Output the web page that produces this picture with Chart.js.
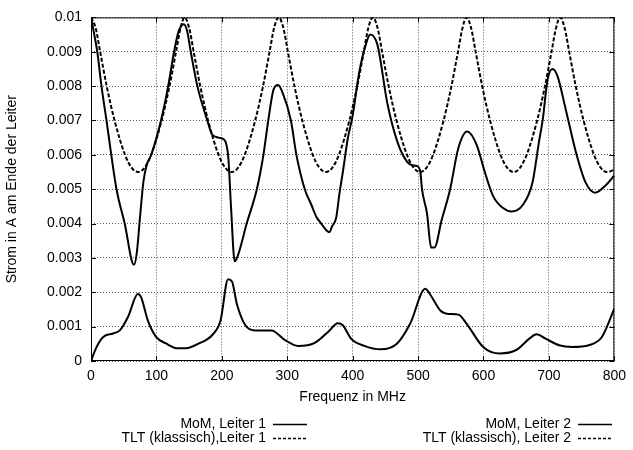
<!DOCTYPE html>
<html>
<head>
<meta charset="utf-8">
<script src="https://cdn.jsdelivr.net/npm/chart.js@4/dist/chart.umd.min.js"></script>
<style>
  body { margin: 0; background: #fff; }
  #wrap { width: 633px; height: 450px; }
</style>
</head>
<body>
<div id="wrap"><canvas id="chart" width="633" height="450"></canvas></div>
<script>
// MoM, Leiter 1 (solid)
const mom1Freq = [0, 4, 9.6, 16, 23.7, 31, 39, 51.5, 65.6, 70, 75, 80, 85, 92, 107, 118, 127, 134, 142, 147, 152.5,
  162.6, 177.8, 185, 195, 203, 207, 210, 214, 219.7, 224.7, 238, 253.5, 263.6, 271, 279, 286, 293, 305.6, 314, 326.8,
  337, 344.4, 352, 360, 364.7, 368, 374.7, 380, 385, 392.4, 400, 410, 420, 426.8, 437.9, 453, 468, 483, 491, 498.5,
  503.5, 506, 513.6, 520, 525, 536, 549, 561.6, 575, 589.4, 602, 614.7, 630, 642.4, 660, 675, 685, 690.4, 698, 705.6,
  713, 726, 741, 756, 771, 786, 800];
const mom1Val = [0.01, 0.0096, 0.009, 0.008, 0.007, 0.006, 0.005, 0.004, 0.0028, 0.00315, 0.0042, 0.0052, 0.0057, 0.006,
  0.007, 0.008, 0.009, 0.0096, 0.0098, 0.0096, 0.009,
  0.008, 0.007, 0.0066, 0.0065, 0.00645, 0.0063, 0.0059, 0.0045, 0.0029, 0.00308, 0.004, 0.005, 0.006, 0.007, 0.0079,
  0.00803, 0.0078, 0.007, 0.006, 0.005,
  0.00454, 0.0042, 0.004, 0.0038, 0.00375, 0.0039, 0.00416, 0.0049, 0.0055, 0.00646, 0.00714, 0.0084, 0.0092, 0.0095,
  0.0092, 0.0075, 0.0064, 0.0058, 0.0057, 0.00567,
  0.0055, 0.005, 0.0043, 0.0033, 0.0033, 0.0041, 0.005, 0.0062, 0.00668, 0.0063, 0.0055, 0.0048, 0.00445, 0.00435,
  0.00454, 0.0052, 0.0064, 0.007, 0.0082, 0.0085,
  0.0083, 0.0073, 0.0061, 0.0052, 0.0049, 0.0051, 0.0054];

// TLT (klassisch), Leiter 1 (dashed)
const tlt1Freq = [0, 7, 14, 24, 36, 52, 62, 72, 82, 92, 108, 120, 130, 137, 143, 150, 157, 167, 179, 195, 205, 215,
  225, 235, 251, 263, 273, 280, 287, 294, 301, 311, 323, 339, 349, 359, 369, 379, 395, 407, 417, 424, 431, 438, 445,
  455, 467, 483, 493, 503, 513, 523, 539, 551, 561, 568, 574, 581, 588, 598, 610, 626, 636, 646, 656, 666, 682, 694,
  704, 711, 717, 724, 731, 741, 753, 769, 779, 789, 800];
const tlt1Val = [0.01, 0.0097, 0.009, 0.008, 0.007, 0.006, 0.00563, 0.0055, 0.00563, 0.006, 0.007, 0.008, 0.009, 0.0097,
  0.01, 0.0097, 0.009, 0.008, 0.007, 0.006, 0.00563, 0.0055,
  0.00563, 0.006, 0.007, 0.008, 0.009, 0.0097, 0.01, 0.0097, 0.009, 0.008, 0.007, 0.006, 0.00563, 0.0055, 0.00563,
  0.006, 0.007, 0.008, 0.009, 0.0097, 0.01, 0.0097, 0.009,
  0.008, 0.007, 0.006, 0.00563, 0.0055, 0.00563, 0.006, 0.007, 0.008, 0.009, 0.0097, 0.01, 0.0097, 0.009, 0.008, 0.007,
  0.006, 0.00563, 0.0055, 0.00563, 0.006, 0.007, 0.008,
  0.009, 0.0097, 0.01, 0.0097, 0.009, 0.008, 0.007, 0.006, 0.00563, 0.0055, 0.00557];

// MoM, Leiter 2 (solid)
const mom2Freq = [0, 8.6, 18.7, 33.8, 44, 56.5, 71.7, 76.7, 86.8, 99.5, 114.7, 132.3, 145, 165, 185, 198, 209.6, 215.6,
  223, 236, 251, 276, 296.5, 316.7, 342, 364.7, 377, 385, 397.5, 417.7, 443, 468, 488, 511, 518, 534, 546, 561.6, 574,
  599.5, 625, 650, 670, 681, 695, 715.6, 736, 761, 781, 800];
const mom2Val = [0, 0.00041, 0.0007, 0.0008, 0.00089, 0.00128, 0.00195, 0.00185, 0.00118, 0.0007, 0.00051, 0.00037,
  0.00037, 0.00051, 0.00075, 0.00118, 0.00238, 0.00231,
  0.00166, 0.00104, 0.00089, 0.00089, 0.00061, 0.00044, 0.00053, 0.00089, 0.0011, 0.00104, 0.00065, 0.00044, 0.00034,
  0.00051, 0.00109, 0.0021, 0.00195, 0.00147, 0.00137, 0.00135, 0.00109,
  0.00041, 0.00022, 0.00032, 0.00065, 0.00078, 0.00065, 0.00046, 0.00041, 0.00046, 0.0007, 0.00152];

// TLT (klassisch), Leiter 2 (dashed)
const tlt2Freq = [0, 800];
const tlt2Val = [0, 0];

const xTicks = [0, 100, 200, 300, 400, 500, 600, 700, 800];
const yTicks = [0, 0.001, 0.002, 0.003, 0.004, 0.005, 0.006, 0.007, 0.008, 0.009, 0.01];
const yTickLabels = ["0", "0.001", "0.002", "0.003", "0.004", "0.005", "0.006", "0.007", "0.008", "0.009", "0.01"];

const FONT = '"Liberation Sans", Arial, Helvetica, sans-serif';

function pts(xs, ys) {
  return xs.map((x, i) => ({ x: x, y: ys[i] }));
}

// frame, inward tick marks and the gnuplot style legend
const framePlugin = {
  id: 'frame',
  afterDraw(chart) {
    const { ctx, chartArea: a, scales } = chart;
    ctx.save();
    ctx.strokeStyle = '#000';
    ctx.lineWidth = 1;
    ctx.setLineDash([]);
    ctx.strokeRect(a.left + 0.5, a.top + 0.5, a.right - a.left - 1, a.bottom - a.top - 1);
    ctx.beginPath();
    xTicks.forEach(v => {
      const x = Math.round(scales.x.getPixelForValue(v)) + 0.5;
      ctx.moveTo(x, a.bottom); ctx.lineTo(x, a.bottom - 5);
      ctx.moveTo(x, a.top); ctx.lineTo(x, a.top + 5);
    });
    yTicks.forEach(v => {
      const y = Math.round(scales.y.getPixelForValue(v)) + 0.5;
      ctx.moveTo(a.left, y); ctx.lineTo(a.left + 5, y);
      ctx.moveTo(a.right, y); ctx.lineTo(a.right - 5, y);
    });
    ctx.stroke();

    const items = [
      { text: 'MoM, Leiter 1', x: 266, y: 424, dash: [] },
      { text: 'TLT (klassisch),Leiter 1', x: 266, y: 438, dash: [3, 2] },
      { text: 'MoM, Leiter 2', x: 571, y: 424, dash: [] },
      { text: 'TLT (klassisch), Leiter 2', x: 571, y: 438, dash: [3, 2] }
    ];
    ctx.font = '14px ' + FONT;
    ctx.fillStyle = '#000';
    ctx.textAlign = 'right';
    ctx.textBaseline = 'middle';
    items.forEach(it => {
      ctx.fillText(it.text, it.x, it.y);
      ctx.setLineDash(it.dash);
      ctx.lineWidth = 1.5;
      ctx.beginPath();
      ctx.moveTo(it.x + 7, it.y + 0.5);
      ctx.lineTo(it.x + 41, it.y + 0.5);
      ctx.stroke();
    });
    ctx.restore();
  }
};

const solid = { borderColor: '#000', borderWidth: 2, pointRadius: 0, cubicInterpolationMode: 'monotone', fill: false };
const dashed = { borderColor: '#000', borderWidth: 2, pointRadius: 0, cubicInterpolationMode: 'monotone', fill: false, borderDash: [4, 2] };

new Chart(document.getElementById('chart'), {
  type: 'line',
  data: {
    datasets: [
      Object.assign({ label: 'MoM, Leiter 1', data: pts(mom1Freq, mom1Val) }, solid),
      Object.assign({ label: 'TLT (klassisch),Leiter 1', data: pts(tlt1Freq, tlt1Val) }, dashed),
      Object.assign({ label: 'MoM, Leiter 2', data: pts(mom2Freq, mom2Val) }, solid),
      Object.assign({ label: 'TLT (klassisch), Leiter 2', data: pts(tlt2Freq, tlt2Val) }, dashed)
    ]
  },
  options: {
    responsive: false,
    animation: false,
    layout: { padding: { left: 0, right: 14, top: 14, bottom: 40 } },
    plugins: { legend: { display: false }, tooltip: { enabled: false } },
    scales: {
      x: {
        type: 'linear',
        min: 0,
        max: 800,
        afterBuildTicks: s => { s.ticks = xTicks.map(v => ({ value: v })); },
        afterFit: s => { s.height = 49; },
        ticks: { color: '#000', padding: 7, maxRotation: 0, font: { family: FONT, size: 14 } },
        grid: { color: '#555', drawTicks: false },
        border: { display: false, dash: [1, 2] },
        title: { display: true, text: 'Frequenz in MHz', color: '#000', font: { family: FONT, size: 14 }, padding: 4 }
      },
      y: {
        min: 0,
        max: 0.01,
        afterBuildTicks: s => { s.ticks = yTicks.map(v => ({ value: v })); },
        afterFit: s => { s.width = 91; },
        ticks: { color: '#000', padding: 9, font: { family: FONT, size: 14 }, callback: (v, i) => yTickLabels[i] },
        grid: { color: '#555', drawTicks: false },
        border: { display: false, dash: [1, 2] },
        title: { display: true, text: 'Strom in A am Ende der Leiter', color: '#000', font: { family: FONT, size: 14 }, padding: 4 }
      }
    }
  },
  plugins: [framePlugin]
});
</script>
</body>
</html>
